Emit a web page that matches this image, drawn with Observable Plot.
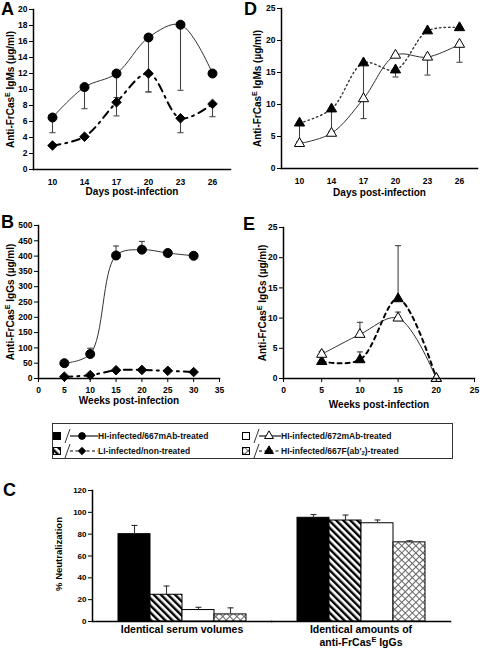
<!DOCTYPE html>
<html><head><meta charset="utf-8">
<script src="https://cdn.jsdelivr.net/npm/d3@7"></script>
<script src="https://cdn.jsdelivr.net/npm/@observablehq/plot@0.6"></script>
<style>
body{margin:0;background:#fff;font-family:"Liberation Sans",Arial,Helvetica,sans-serif;}
#root{position:relative;width:480px;height:648px;overflow:hidden;background:#fff;}
.p{position:absolute;}
.letter{position:absolute;font-weight:bold;font-size:18px;line-height:18px;color:#000;}
.lg{position:absolute;font-weight:bold;font-size:8.5px;line-height:16px;color:#111;white-space:nowrap;}
.lg sub{font-size:6px;vertical-align:-1px;line-height:0;}
</style></head>
<body>
<svg width="0" height="0" style="position:absolute">
  <defs>
    <pattern id="diag" patternUnits="userSpaceOnUse" width="5" height="5" patternTransform="rotate(-45)">
      <rect width="5" height="5" fill="white"/>
      <rect width="2.4" height="5" fill="black"/>
    </pattern>
    <pattern id="cross" patternUnits="userSpaceOnUse" width="5" height="5" patternTransform="rotate(45)">
      <rect width="5" height="5" fill="white"/>
      <path d="M0 0.5H5M0.5 0V5" stroke="#666" stroke-width="1"/>
    </pattern>
  </defs>
</svg>
<div id="root">
  <div class="p" id="pA" style="left:0;top:0"></div>
  <div class="p" id="pD" style="left:240px;top:0"></div>
  <div class="p" id="pB" style="left:0;top:210px"></div>
  <div class="p" id="pE" style="left:240px;top:210px"></div>
  <div class="p" id="pC" style="left:0;top:485px"></div>
  <div class="letter" style="left:1px;top:0">A</div>
  <div class="letter" style="left:244px;top:0">D</div>
  <div class="letter" style="left:1px;top:213px">B</div>
  <div class="letter" style="left:243px;top:215px">E</div>
  <div class="letter" style="left:3px;top:481px">C</div>
  <div id="legend" style="position:absolute;left:52px;top:423px;width:399px;height:34px;border:1px solid #333;"></div>
</div>
<script>
// ---------- data ----------
const daysA = ["10","14","17","20","23","26"];
const aHI667 = [6.5,10.3,12.0,16.5,18.1,12.0];
const aHI667Err = [4.6,7.6,9.0,9.7,9.9,null];
const aLI = [3.0,4.1,8.4,12.0,6.4,8.2];
const aLIErr = [null,null,6.7,9.7,4.6,6.6];
const ticksA = [0,2,4,6,8,10,12,14,16,18,20];

const daysD = ["10","14","17","20","23","26"];
const d672 = [3.9,5.5,10.9,17.7,17.4,19.4];
const d672Err = [null,null,7.8,null,14.6,16.6];
const dFab = [7.1,9.3,16.5,15.4,21.5,22.0];
const dFabErr = [4.2,5.8,11.0,14.3,null,null];
const ticksD = [0,5,10,15,20,25];

const weeksB = [5,10,15,20,25,30];
const bHI667 = [50,80,402,421,410,401];
const bHI667Err = [null,99,433,448,418,null];
const bLI = [6,11,27,28,25,21];
const bLIErr = [null,null,null,null,null,null];
const ticksBx = [0,5,10,15,20,25,30,35];
const ticksBy = [0,50,100,150,200,250,300,350,400,450,500];

const weeksE = [5,10,15,20];
const e672 = [4.0,7.3,10.0,0];
const e672Err = [4.5,9.3,11.0,null];
const eFab = [2.8,3.1,13.2,0];
const eFabErr = [null,4.4,22.0,null];
const ticksEx = [0,5,10,15,20,25];
const ticksEy = [0,5,10,15,20,25];

const groupsC = ["Identical serum volumes", "Identical amounts of\nanti-FrCas^E IgGs"];
const seriesC = ["HI-infected/667mAb-treated","LI-infected/non-treated","HI-infected/672mAb-treated","HI-infected/667F(ab'2)-treated"];
const neutSerum = [80,24.5,10.5,6.5];
const neutSerumErr = [88,32.5,13,12.5];
const neutIgG = [95,92.5,90,72.5];
const neutIgGErr = [98,97.5,93,74];
const ticksC = [0,20,40,60,80,100,120];

// ---------- styles ----------
const FONT = "'Liberation Sans', Arial, Helvetica, sans-serif";
const styleHI667 = {symbol:"circle", r:4.5, fill:"black", dotStroke:"black", line:"#333", lw:1, dash:null};
const styleLI    = {symbol:"diamond2", r:4.3, fill:"black", dotStroke:"black", line:"black", lw:2, dash:"8 5 2 5"};
const style672   = {symbol:"triangle", r:3.8, fill:"white", dotStroke:"black", line:"#333", lw:1, dash:null};
const styleFabD  = {symbol:"triangle", r:3.8, fill:"black", dotStroke:"black", line:"#333", lw:1.4, dash:"1.5 3"};
const styleFabE  = {symbol:"triangle", r:3.8, fill:"black", dotStroke:"black", line:"black", lw:2, dash:"4 4"};
const cap = {draw(c, s){ const w = Math.sqrt(s/Math.PI); c.moveTo(-w,0); c.lineTo(w,0); }};

function supify(root){
  const walker = document.createTreeWalker(root, NodeFilter.SHOW_TEXT);
  const nodes = [];
  while (walker.nextNode()) if (walker.currentNode.data.includes("^E")) nodes.push(walker.currentNode);
  const NS = "http://www.w3.org/2000/svg";
  for (const n of nodes) {
    const [a, b] = n.data.split("^E");
    const p = n.parentNode;
    const t1 = document.createTextNode(a);
    const s = document.createElementNS(NS, "tspan");
    s.setAttribute("dy","-0.5em"); s.setAttribute("font-size","70%"); s.textContent = "E";
    const s2 = document.createElementNS(NS, "tspan");
    s2.setAttribute("dy","0.35em"); s2.textContent = b;
    p.insertBefore(t1, n); p.insertBefore(s, n); p.insertBefore(s2, n); p.removeChild(n);
  }
}

function linePanel(cfg){
  const marks = [];
  const layers = cfg.layers.map(L => ({...L, rows: L.x.map((x,i)=>({x, y:L.y[i], e:L.err[i]}))}));
  for (const L of layers) marks.push(Plot.line(L.rows, {x:"x", y:"y", curve:"catmull-rom", stroke:L.st.line, strokeWidth:L.st.lw, strokeDasharray:L.st.dash}));
  for (const L of layers) {
    const er = L.rows.filter(d => d.e != null);
    marks.push(Plot.ruleX(er, {x:"x", y1:"y", y2:"e", stroke:"#444", strokeWidth:1.1}));
    marks.push(Plot.dot(er, {x:"x", y:"e", symbol:cap, r:3, stroke:"#444", fill:"none", strokeWidth:1.1}));
  }
  for (const L of layers) marks.push(Plot.dot(L.rows, {x:"x", y:"y", symbol:L.st.symbol, r:L.st.r, fill:L.st.fill, stroke:L.st.dotStroke, strokeWidth:1}));
  marks.push(Plot.frame({anchor:"left", stroke:"black", strokeWidth:1.5}));
  marks.push(Plot.frame({anchor:"bottom", stroke:"black", strokeWidth:1.5}));
  marks.push(Plot.axisY(cfg.yTicks, {tickSize:4, tickPadding:2, fontSize:8.5, fontWeight:"bold", label:null, stroke:"black"}));
  marks.push(Plot.axisX(cfg.xTicks ?? undefined, {tickSize:cfg.xTickSize, tickPadding:cfg.xTickPadding, fontSize:8.5, fontWeight:"bold", label:null, stroke:"black"}));
  marks.push(Plot.text([cfg.xLabel], {frameAnchor:"bottom", textAnchor:"middle", dy:cfg.xLabelDy, fontSize:10, fontWeight:"bold"}));
  marks.push(Plot.text([cfg.yLabel], {frameAnchor:"left", textAnchor:"middle", rotate:-90, dx:cfg.yLabelDx, fontSize:10, fontWeight:"bold"}));
  const svg = Plot.plot({
    width:cfg.width, height:cfg.height,
    marginLeft:cfg.m[0], marginRight:cfg.m[1], marginTop:cfg.m[2], marginBottom:cfg.m[3],
    style:{fontFamily:FONT, fontSize:"9px", background:"transparent", color:"black", overflow:"visible"},
    x:cfg.x, y:cfg.y,
    marks
  });
  supify(svg);
  return svg;
}

// Panel A
document.getElementById("pA").appendChild(linePanel({
  width:240, height:205, m:[33,10,9,36],
  x:{type:"point", domain:daysA, padding:0.5},
  y:{domain:[0,20]},
  yTicks:ticksA, xTicks:null, xTickSize:0, xTickPadding:9,
  xLabel:"Days post-infection", xLabelDy:25,
  yLabel:"Anti-FrCas^E IgMs (µg/ml)", yLabelDx:-23,
  layers:[
    {x:daysA, y:aLI, err:aLIErr, st:styleLI},
    {x:daysA, y:aHI667, err:aHI667Err, st:styleHI667}
  ]
}));

// Panel D
document.getElementById("pD").appendChild(linePanel({
  width:240, height:205, m:[41,3,8,37],
  x:{type:"point", domain:daysD, padding:0.5},
  y:{domain:[0,25]},
  yTicks:ticksD, xTicks:null, xTickSize:0, xTickPadding:9,
  xLabel:"Days post-infection", xLabelDy:27,
  yLabel:"Anti-FrCas^E IgMs (µg/ml)", yLabelDx:-24,
  layers:[
    {x:daysD, y:dFab, err:dFabErr, st:styleFabD},
    {x:daysD, y:d672, err:d672Err, st:style672}
  ]
}));

// Panel B
document.getElementById("pB").appendChild(linePanel({
  width:240, height:200, m:[38,21,15,32],
  x:{domain:[0,35]},
  y:{domain:[0,500]},
  yTicks:ticksBy, xTicks:ticksBx, xTickSize:4, xTickPadding:4,
  xLabel:"Weeks post-infection", xLabelDy:25,
  yLabel:"Anti-FrCas^E IgGs (µg/ml)", yLabelDx:-28,
  layers:[
    {x:weeksB, y:bLI, err:bLIErr, st:styleLI},
    {x:weeksB, y:bHI667, err:bHI667Err, st:styleHI667}
  ]
}));

// Panel E
document.getElementById("pE").appendChild(linePanel({
  width:240, height:205, m:[43,6,17,37],
  x:{domain:[0,25]},
  y:{domain:[0,25]},
  yTicks:ticksEy, xTicks:ticksEx, xTickSize:4, xTickPadding:4,
  xLabel:"Weeks post-infection", xLabelDy:29,
  yLabel:"Anti-FrCas^E IgGs (µg/ml)", yLabelDx:-21,
  layers:[
    {x:weeksE, y:eFab, err:eFabErr, st:styleFabE},
    {x:weeksE, y:e672, err:e672Err, st:style672}
  ]
}));

// Panel C
const valsC = [neutSerum, neutIgG];
const errsC = [neutSerumErr, neutIgGErr];
const rowsC = [];
groupsC.forEach((g,gi) => seriesC.forEach((s,si) => rowsC.push({g, s, v:valsC[gi][si], e:errsC[gi][si]})));
const svgC = Plot.plot({
  width:480, height:163, marginLeft:92, marginRight:30, marginTop:5, marginBottom:27,
  style:{fontFamily:FONT, fontSize:"9px", background:"transparent", color:"black", overflow:"visible"},
  fx:{domain:groupsC, padding:0, label:null},
  x:{domain:seriesC, paddingInner:0, paddingOuter:0.75, axis:null},
  y:{domain:[0,120]},
  color:{domain:seriesC, range:["black","url(#diag)","white","url(#cross)"]},
  marks:[
    Plot.barY(rowsC, {fx:"g", x:"s", y:"v", fill:"s", stroke:"black", strokeWidth:1}),
    Plot.ruleX(rowsC, {fx:"g", x:"s", y1:"v", y2:"e", stroke:"#333", strokeWidth:1.1}),
    Plot.dot(rowsC, {fx:"g", x:"s", y:"e", symbol:cap, r:3, stroke:"#333", fill:"none", strokeWidth:1.1}),
    Plot.frame({anchor:"left", facetAnchor:"left", stroke:"black", strokeWidth:1.5}),
    Plot.frame({anchor:"bottom", stroke:"black", strokeWidth:1.5}),
    Plot.axisY(ticksC, {tickSize:4, tickPadding:2, fontSize:8, fontWeight:"bold", label:null, stroke:"black"}),
    Plot.axisFx({anchor:"bottom", tickSize:0, tickPadding:3, fontSize:10.5, fontWeight:"bold", lineHeight:1.2, label:null}),
    Plot.text(["% Neutralization"], {frameAnchor:"left", textAnchor:"middle", facetAnchor:"left", rotate:-90, dx:-34, dy:-2, fontSize:9.5, fontWeight:"bold"})
  ]
});
supify(svgC);
document.getElementById("pC").appendChild(svgC);

// ---------- legend ----------
const legendFills = ["black","url(#diag)","white","url(#cross)"];
const legendStyles = [styleHI667, styleLI, style672, styleFabE];
const legendPos = [[52,428,98],[52,443,98],[241,428,281],[241,443,281]];
const root = document.getElementById("root");
seriesC.forEach((name,i) => {
  const [sx, sy, tx] = legendPos[i];
  const st = legendStyles[i];
  const mx = i < 2 ? 30 : 28;
  const sym = d3.symbol(st.symbol === "circle" ? d3.symbolCircle : st.symbol === "diamond2" ? d3.symbolDiamond2 : d3.symbolTriangle, st.symbol==="circle" ? 36 : 34)();
  const div = document.createElement("div");
  div.style.cssText = `position:absolute;left:${sx}px;top:${sy}px;width:46px;height:16px;`;
  div.innerHTML = `<svg width="46" height="16" style="overflow:visible">
    <rect x="1.5" y="4.5" width="7" height="7" fill="${legendFills[i]}" stroke="black" stroke-width="1"/>
    <line x1="13" y1="15" x2="18" y2="1" stroke="#333" stroke-width="1"/>
    <line x1="18" y1="8" x2="${i<2?46:40}" y2="8" stroke="black" stroke-width="1.1" ${st.dash ? `stroke-dasharray="3 2.5"` : ""}/>
    <path transform="translate(${mx},8)" d="${sym}" fill="${st.fill}" stroke="black" stroke-width="1"/>
  </svg>`;
  root.appendChild(div);
  const t = document.createElement("div");
  t.className = "lg";
  t.style.left = tx + "px"; t.style.top = sy + "px";
  t.innerHTML = name.replace("'2)", "'<sub>2</sub>)");
  root.appendChild(t);
});
</script>
</body></html>
